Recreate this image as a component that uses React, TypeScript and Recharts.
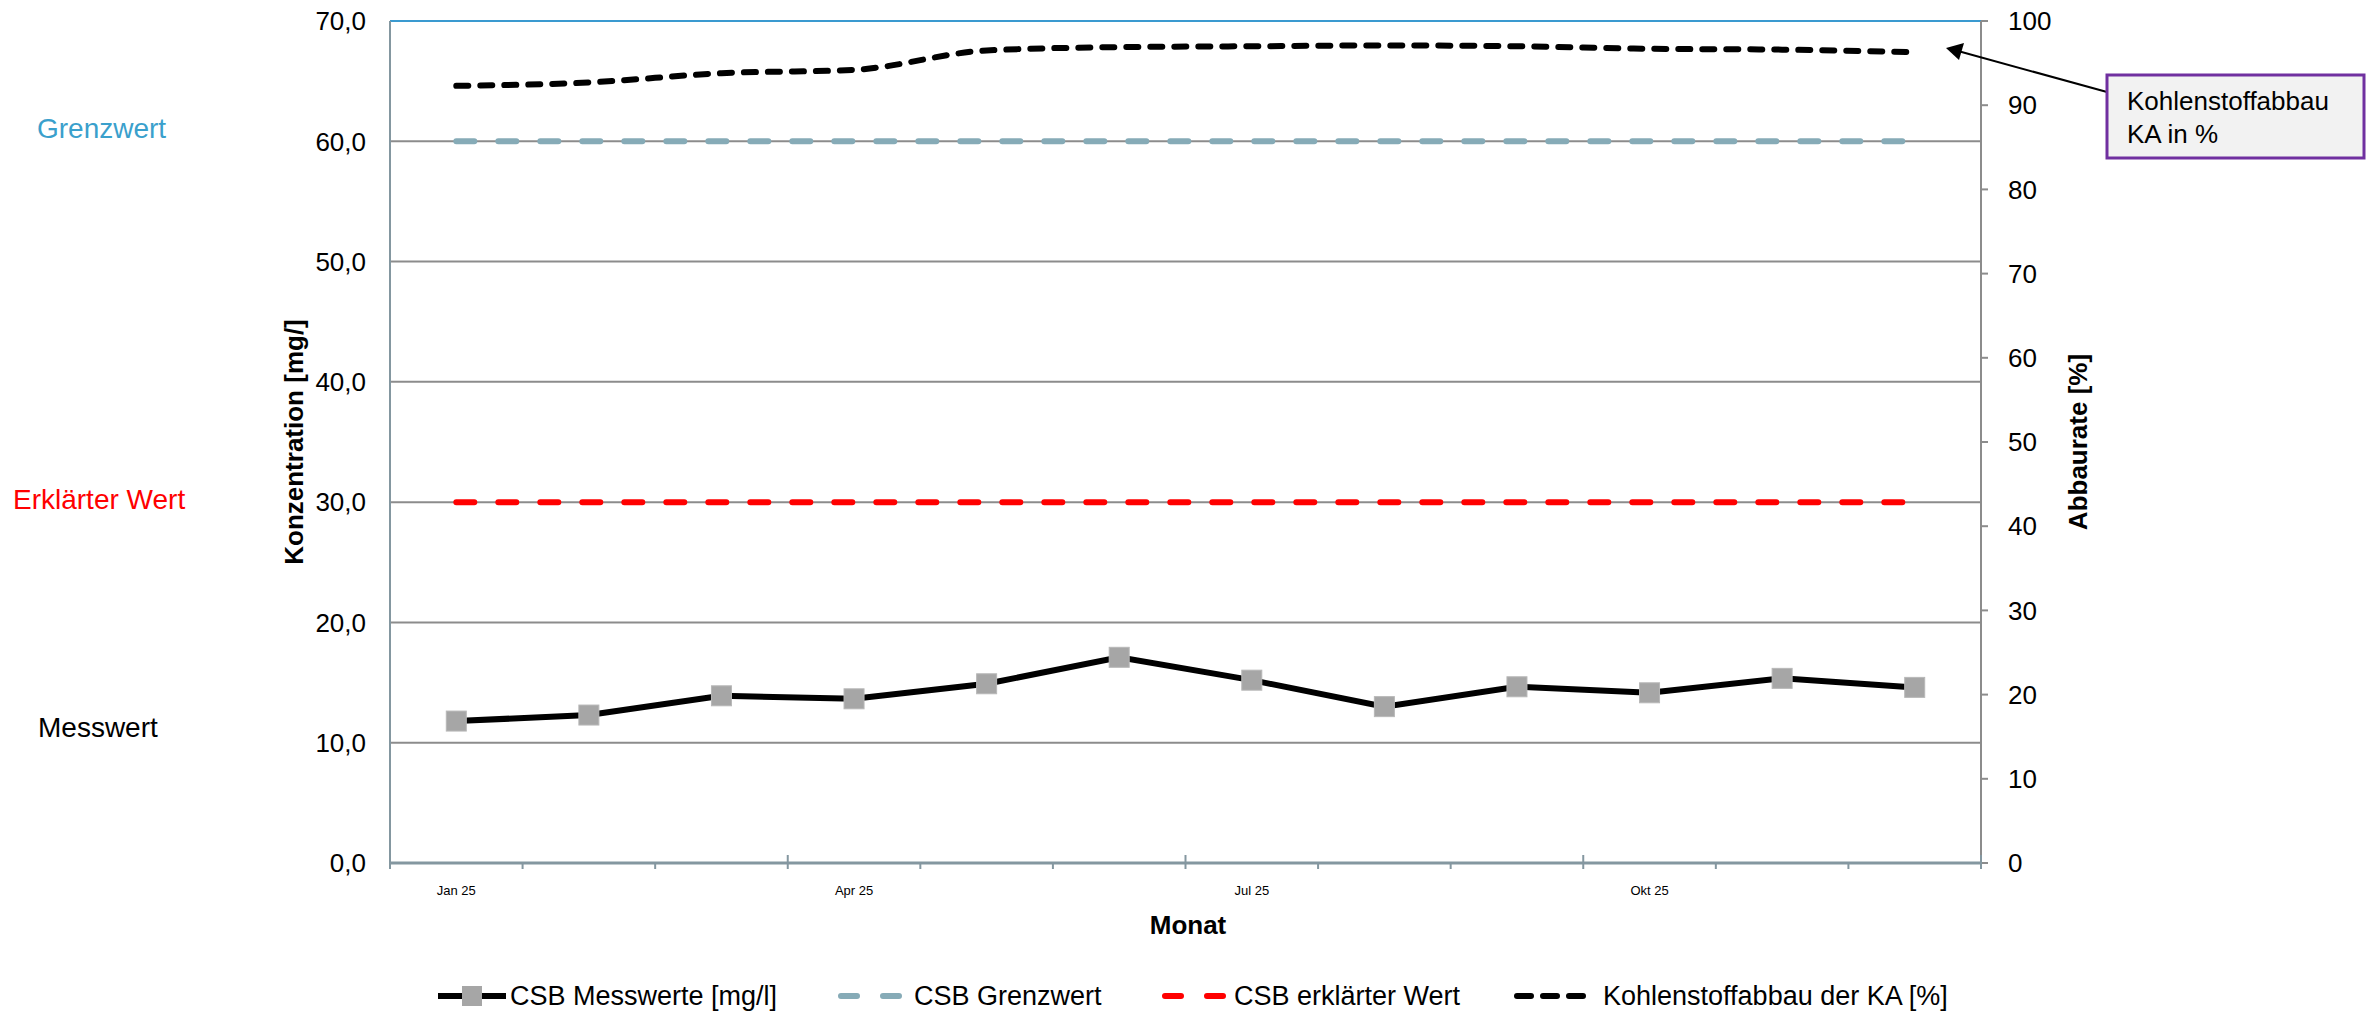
import React from 'react';
import { LineChart, Line, XAxis, YAxis, CartesianGrid, ReferenceLine } from 'recharts';

const months = ['Jan 25', 'Feb 25', 'Mrz 25', 'Apr 25', 'Mai 25', 'Jun 25', 'Jul 25', 'Aug 25', 'Sep 25', 'Okt 25', 'Nov 25', 'Dez 25'];
const shownMonthLabels = ['Jan 25', 'Apr 25', 'Jul 25', 'Okt 25'];
const csbMesswerte = [11.8, 12.3, 13.9, 13.65, 14.9, 17.1, 15.2, 13.0, 14.65, 14.15, 15.35, 14.6];
const csbGrenzwert = [60, 60, 60, 60, 60, 60, 60, 60, 60, 60, 60, 60];
const csbErklaert = [30, 30, 30, 30, 30, 30, 30, 30, 30, 30, 30, 30];
const kohlenstoffabbau = [92.3, 92.7, 93.8, 94.2, 96.5, 96.9, 97.0, 97.1, 97.0, 96.7, 96.6, 96.3];
const leftTicks = [0, 10, 20, 30, 40, 50, 60, 70];
const rightTicks = [0, 10, 20, 30, 40, 50, 60, 70, 80, 90, 100];

const data = months.map((m, i) => ({
  month: m,
  mess: csbMesswerte[i],
  grenz: csbGrenzwert[i],
  erkl: csbErklaert[i],
  abbau: kohlenstoffabbau[i],
}));

const FONT = '"Liberation Sans", Arial, sans-serif';
const W = 2366;
const H = 1011;

const XTick = (props: any) => {
  const { x, y, payload, index, visibleTicksCount } = props;
  const half = payload && typeof payload.offset === 'number' && payload.offset > 0 ? payload.offset : 66.3;
  const bx = x - half;
  const major = index % 3 === 0;
  const isLast = index === (visibleTicksCount ?? 12) - 1;
  const show = shownMonthLabels.includes(payload.value);
  return (
    <g>
      <line x1={bx} x2={bx} y1={major ? y - 8 : y} y2={y + 6} stroke="#8497a0" strokeWidth={2} />
      {isLast && <line x1={x + half} x2={x + half} y1={(index + 1) % 3 === 0 ? y - 8 : y} y2={y + 6} stroke="#8497a0" strokeWidth={2} />}
      {show && (
        <text x={x} y={y + 32} textAnchor="middle" fontSize={13} fontFamily={FONT} fill="#000">
          {payload.value}
        </text>
      )}
    </g>
  );
};

const SquareDot = (p: any) => {
  if (p.cx == null || p.cy == null) return <g key={p.index} />;
  return <rect key={p.index} x={p.cx - 10} y={p.cy - 10} width={20} height={20} fill="#a6a6a6" stroke="#b8b8b8" strokeWidth={1} />;
};

const Overlay = () => (
  <svg width={W} height={H} style={{ position: 'absolute', left: 0, top: 0, pointerEvents: 'none' }}>
    {/* side labels */}
    <text x={37} y={138} fontSize={28} fontFamily={FONT} fill="#3aa0cc">Grenzwert</text>
    <text x={13} y={509} fontSize={28} fontFamily={FONT} fill="#ff0000">Erklärter Wert</text>
    <text x={38} y={737} fontSize={28} fontFamily={FONT} fill="#000">Messwert</text>
    {/* axis titles */}
    <text x={0} y={0} transform="translate(303,442) rotate(-90)" textAnchor="middle" fontSize={26} fontWeight="bold" fontFamily={FONT} fill="#000">Konzentration [mg/]</text>
    <text x={0} y={0} transform="translate(2087,442) rotate(-90)" textAnchor="middle" fontSize={26} fontWeight="bold" fontFamily={FONT} fill="#000">Abbaurate [%]</text>
    <text x={1188} y={934} textAnchor="middle" fontSize={26} fontWeight="bold" fontFamily={FONT} fill="#000">Monat</text>
    {/* annotation box */}
    <line x1={2107} y1={92} x2={1958} y2={51} stroke="#000" strokeWidth={2} />
    <path d="M1964,43 L1946,48 L1959,60 z" fill="#000" />
    <rect x={2107} y={75} width={257} height={83} fill="#f2f2f2" stroke="#7030a0" strokeWidth={3} />
    <text x={2127} y={110} fontSize={26} fontFamily={FONT} fill="#000">Kohlenstoffabbau</text>
    <text x={2127} y={143} fontSize={26} fontFamily={FONT} fill="#000">KA in %</text>
    {/* legend */}
    <g fontSize={27} fontFamily={FONT} fill="#000">
      <line x1={438} x2={506} y1={996} y2={996} stroke="#000" strokeWidth={6} />
      <rect x={462} y={986} width={20} height={20} fill="#a6a6a6" />
      <text x={510} y={1005}>CSB Messwerte [mg/l]</text>
      <line x1={841} x2={905} y1={996} y2={996} stroke="#86abb7" strokeWidth={6} strokeDasharray="16 26" strokeLinecap="round" />
      <text x={914} y={1005}>CSB Grenzwert</text>
      <line x1={1165} x2={1225} y1={996} y2={996} stroke="#ff0000" strokeWidth={6} strokeDasharray="16 26" strokeLinecap="round" />
      <text x={1234} y={1005}>CSB erklärter Wert</text>
      <line x1={1517} x2={1594} y1={996} y2={996} stroke="#000" strokeWidth={6} strokeDasharray="14 12" strokeLinecap="round" />
      <text x={1603} y={1005}>Kohlenstoffabbau der KA [%]</text>
    </g>
  </svg>
);

export default function App() {
  const leftW = 100;
  const rightW = 100;
  const xH = 50;
  return (
    <div style={{ position: 'absolute', left: 0, top: 0, width: W, height: H, background: '#fff', fontFamily: FONT }}>
      <LineChart
        width={W}
        height={H}
        data={data}
        margin={{ top: 21, right: W - 1981 - rightW, bottom: H - 863 - xH, left: 390 - leftW }}
      >
        <CartesianGrid yAxisId="left" vertical={false} stroke="#8c8c8c" strokeWidth={2} />
        <XAxis
          dataKey="month"
          scale="band"
          height={xH}
          interval={0}
          tickSize={0}
          tickMargin={0}
          tickLine={false}
          axisLine={{ stroke: '#8497a0', strokeWidth: 3 }}
          tick={<XTick />}
        />
        <YAxis
          yAxisId="left"
          orientation="left"
          width={leftW}
          domain={[0, 70]}
          ticks={leftTicks}
          type="number"
          tickLine={false}
          tickSize={0}
          tickMargin={24}
          axisLine={{ stroke: '#8497a0', strokeWidth: 2 }}
          tick={{ fontSize: 26, fill: '#000', fontFamily: FONT }}
          tickFormatter={(v: number) => v.toFixed(1).replace('.', ',')}
        />
        <YAxis
          yAxisId="right"
          orientation="right"
          width={rightW}
          domain={[0, 100]}
          ticks={rightTicks}
          type="number"
          tickSize={7}
          tickMargin={20}
          tickLine={{ stroke: '#8c8c8c', strokeWidth: 2 }}
          axisLine={{ stroke: '#8c8c8c', strokeWidth: 2 }}
          tick={{ fontSize: 26, fill: '#000', fontFamily: FONT }}
        />
        <ReferenceLine yAxisId="left" y={70} stroke="#3a9ad0" strokeWidth={2} />
        <Line yAxisId="left" dataKey="grenz" stroke="#86abb7" strokeWidth={6} strokeDasharray="18 24" strokeLinecap="round" dot={false} activeDot={false} isAnimationActive={false} />
        <Line yAxisId="left" dataKey="erkl" stroke="#ff0000" strokeWidth={6} strokeDasharray="18 24" strokeLinecap="round" dot={false} activeDot={false} isAnimationActive={false} />
        <Line yAxisId="right" type="monotone" dataKey="abbau" stroke="#000" strokeWidth={6} strokeDasharray="12 12" strokeLinecap="round" dot={false} activeDot={false} isAnimationActive={false} />
        <Line yAxisId="left" dataKey="mess" stroke="#000" strokeWidth={6} dot={<SquareDot />} activeDot={false} isAnimationActive={false} />
      </LineChart>
      <Overlay />
    </div>
  );
}
